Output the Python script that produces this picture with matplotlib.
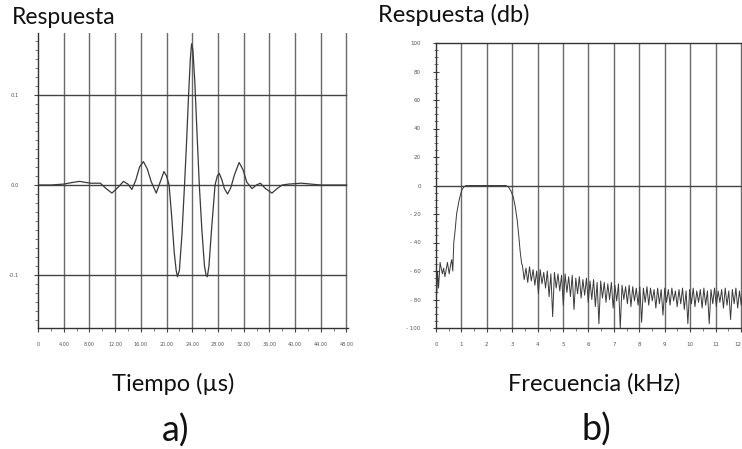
import matplotlib
matplotlib.use('Agg')
import matplotlib.pyplot as plt
from matplotlib.ticker import MultipleLocator, FixedLocator
import numpy as np

# a) respuesta temporal (leida de la figura)
t_us = [0, 2, 4, 5.5, 6.5, 7.3, 8.2, 9.0, 9.7, 10.6, 11.5, 12.4, 13.3, 14.0,
        14.6, 15.2, 15.8, 16.4, 17.0, 17.6, 18.4, 19.0, 19.6, 20.0, 20.4,
        20.8, 21.2, 21.5, 21.7, 22.0, 22.4, 22.8, 23.1, 23.4, 23.7, 23.9,
        24.1, 24.4, 24.7, 25.1, 25.5, 25.9, 26.15, 26.35, 26.6, 27.0, 27.55,
        27.9, 28.2, 28.6, 29.0, 29.5, 30.0, 30.6, 31.3, 31.9, 32.5, 33.3,
        34.0, 34.6, 35.4, 36.4, 37.2, 38.0, 39.0, 41.0, 42.5, 44, 46, 48]
resp = [0, 0, 0.001, 0.003, 0.004, 0.003, 0.002, 0.002, 0.002, -0.004,
        -0.009, -0.003, 0.004, 0.001, -0.005, 0.005, 0.020, 0.026, 0.018,
        0.004, -0.009, 0.003, 0.015, 0.010, 0.0, -0.035, -0.075, -0.095,
        -0.102, -0.095, -0.055, 0.0, 0.045, 0.095, 0.140, 0.157, 0.150,
        0.115, 0.065, 0.0, -0.050, -0.090, -0.100, -0.102, -0.090, -0.050,
        0.0, 0.010, 0.013, 0.006, -0.004, -0.010, -0.003, 0.012, 0.025,
        0.017, 0.003, -0.004, 0.000, 0.002, -0.004, -0.009, -0.004, 0.000,
        0.001, 0.002, 0.001, 0.0, 0.0, 0.0]
t_ticks = [0, 4, 8, 12, 16, 20, 24, 28, 32, 36, 40, 44, 48]
t_labels = ['0', '4.00', '8.00', '12.00', '16.00', '20.00', '24.00', '28.00',
            '32.00', '36.00', '40.00', '44.00', '48.00']

# b) respuesta en frecuencia (dB)
f_pass = [0.0, 0.03, 0.06, 0.10, 0.16, 0.25, 0.30, 0.35, 0.45, 0.52, 0.58,
          0.62, 0.66, 0.70, 0.75, 0.81, 0.88, 0.94, 1.02, 1.10, 1.18, 2.75,
          2.85, 2.95, 3.04, 3.12, 3.20, 3.26, 3.31, 3.37]
db_pass = [-62, -76, -60, -72, -54, -62, -58, -64, -54, -62, -55, -52, -60,
           -40, -32, -20, -13, -8, -3, -1, 0, 0, -1, -4, -8, -15, -25, -36,
           -46, -55]
f_ripple_start = 3.40
f_ripple_step = 0.07
db_ripple = [
    -56, -66, -58, -68, -57, -67, -59, -70, -60, -76, -59, -69, -61, -72,
    -60, -78, -62, -92, -61, -72, -62, -74, -63, -84, -62, -75, -64, -78,
    -63, -87, -65, -76, -64, -79, -66, -77, -65, -82, -67, -80, -66, -85,
    -68, -97, -67, -79, -68, -82, -69, -80, -68, -86, -70, -81, -69, -100,
    -70, -80, -71, -83, -70, -85, -71, -81, -72, -84, -71, -96, -72, -82,
    -71, -84, -72, -81, -73, -86, -72, -83, -73, -91, -72, -82, -73, -84,
    -72, -81, -74, -85, -73, -83, -72, -87, -74, -97, -73, -83, -72, -85,
    -74, -82, -73, -86, -72, -84, -74, -97, -73, -83, -72, -85, -74, -82,
    -73, -86, -72, -84, -74, -94, -73, -83, -72, -86, -74, -84, -73]
f_ticks = list(range(13))
f_labels = [str(f) for f in f_ticks]
db_ticks = [100, 80, 60, 40, 20, 0, -20, -40, -60, -80, -100]
db_labels = ['100', '80', '60', '40', '20', '0', '- 20', '- 40', '- 60',
             '- 80', '- 100']

f_ripple = f_ripple_start + f_ripple_step * np.arange(len(db_ripple))
freq = np.concatenate([f_pass, f_ripple])
db = np.concatenate([db_pass, db_ripple])

W, H = 742, 449
fig = plt.figure(figsize=(W / 100, H / 100), dpi=100)
big = ['Lato', 'DejaVu Sans']
grid_c = '#6a6a6a'
line_c = '#3a3a3a'
tick_c = '#555555'

# ---- panel a
ax1 = fig.add_axes([38 / W, 1 - 328 / H, (348.4 - 38) / W, (328 - 33) / H])
ax1.set_xlim(0, 48.3)
ax1.set_ylim(-0.159, 0.169)
for t in t_ticks[1:]:
    ax1.axvline(t, color=grid_c, lw=1.0, zorder=1)
for y in [-0.1, 0.0, 0.1]:
    ax1.plot([0, 48], [y, y], color='#444444', lw=1.0, zorder=1)
ax1.plot(t_us, resp, color=line_c, lw=0.9, zorder=3)
for s in ['top', 'right']:
    ax1.spines[s].set_visible(False)
for s in ['left', 'bottom']:
    ax1.spines[s].set_color('#333333')
    ax1.spines[s].set_linewidth(1.0)
ax1.xaxis.set_major_locator(FixedLocator(t_ticks))
ax1.set_xticklabels(t_labels)
ax1.xaxis.set_minor_locator(MultipleLocator(2))
ax1.yaxis.set_major_locator(FixedLocator([-0.1, 0.0, 0.1]))
ax1.set_yticklabels(['-0.1', '0.0', '0.1'])
ax1.yaxis.set_minor_locator(MultipleLocator(0.01))
ax1.tick_params(axis='x', which='major', length=3, width=0.8, color='#444',
                labelsize=3.5, labelcolor=tick_c, pad=7)
ax1.tick_params(axis='x', which='minor', length=2, width=0.6, color='#666')
ax1.tick_params(axis='y', which='major', length=3, width=0.8, color='#444',
                labelsize=3.8, labelcolor=tick_c, pad=11)
ax1.tick_params(axis='y', which='minor', length=2.5, width=0.6, color='#666')

# ---- panel b
ax2 = fig.add_axes([436 / W, 1 - 328 / H, (W - 436) / W, (328 - 43) / H])
ax2.set_xlim(0, 12.04)
ax2.set_ylim(-100, 100)
for f in f_ticks[1:]:
    ax2.axvline(f, color=grid_c, lw=1.0, zorder=1)
ax2.axhline(0, color='#444444', lw=1.0, zorder=1)
ax2.plot(freq, db, color=line_c, lw=0.7, zorder=3)
ax2.spines['right'].set_visible(False)
for s in ['left', 'bottom', 'top']:
    ax2.spines[s].set_color('#333333')
    ax2.spines[s].set_linewidth(1.0)
ax2.xaxis.set_major_locator(FixedLocator(f_ticks))
ax2.set_xticklabels(f_labels)
ax2.get_xticklabels()[-1].set_horizontalalignment('right')
ax2.xaxis.set_minor_locator(MultipleLocator(0.5))
ax2.yaxis.set_major_locator(FixedLocator(db_ticks))
ax2.set_yticklabels(db_labels)
ax2.yaxis.set_minor_locator(MultipleLocator(5))
ax2.tick_params(axis='x', which='major', length=3, width=0.8, color='#444',
                labelsize=4, labelcolor=tick_c, pad=7)
ax2.tick_params(axis='x', which='minor', length=2, width=0.6, color='#666')
ax2.tick_params(axis='y', which='major', direction='inout', length=4,
                width=0.8, color='#444', labelsize=4, labelcolor=tick_c, pad=9)
ax2.tick_params(axis='y', which='minor', direction='inout', length=3,
                width=0.6, color='#666')

# ---- textos
def ftext(x, y, s, size, **kw):
    fig.text(x / W, 1 - y / H, s, fontsize=size, family=big, color='#111111',
             **kw)

ftext(12, 18, 'Respuesta', 16.5, ha='left', va='center')
ftext(378, 15, 'Respuesta (db)', 17, ha='left', va='center')
ftext(173, 384, 'Tiempo (µs)', 17, ha='center', va='center')
ftext(594, 384, 'Frecuencia (kHz)', 17, ha='center', va='center')
ftext(176, 431, 'a)', 26, ha='center', va='center')
ftext(596, 430, 'b)', 26, ha='center', va='center')

fig.savefig('out.png', dpi=100)
